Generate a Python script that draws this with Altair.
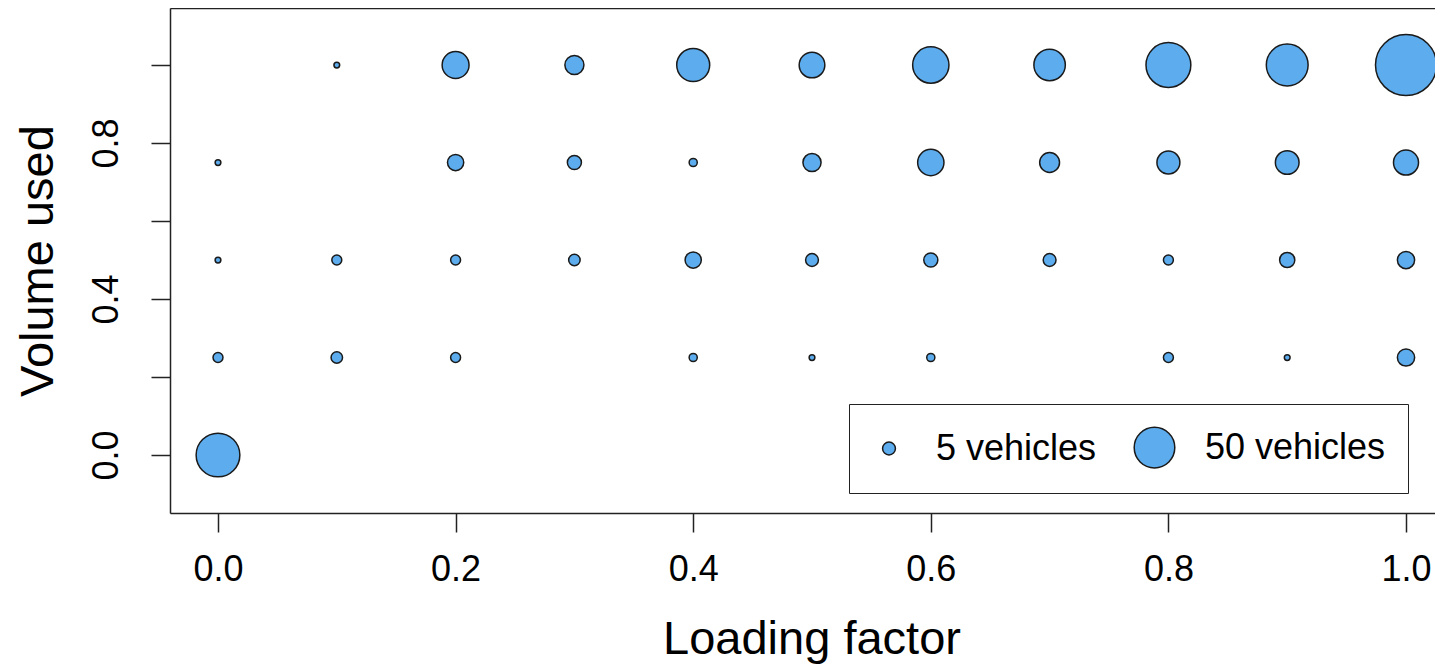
import altair as alt
import pandas as pd

FONT = "Liberation Sans, Arial, Helvetica, sans-serif"
BLUE = "#5CACEE"
DARK = "#1a1a1a"

# Data: number of vehicles per (loading factor, volume used) cell
loading = [0.0, 0.1, 0.2, 0.3, 0.4, 0.5, 0.6, 0.7, 0.8, 0.9, 1.0]
volume_levels = [0.0, 0.25, 0.5, 0.75, 1.0]
count_v000 = [58, None, None, None, None, None, None, None, None, None, None]
count_v025 = [3, 4, 3, None, 2, 1, 2, None, 3, 1, 9]
count_v050 = [1, 3, 3, 4, 8, 5, 6, 5, 3, 7, 9]
count_v075 = [1, None, 8, 6, 2, 10, 21, 12, 16, 17, 19]
count_v100 = [None, 1, 22, 11, 33, 20, 40, 30, 61, 53, 113]

x_ticks = [0.0, 0.2, 0.4, 0.6, 0.8, 1.0]
y_ticks = [0.0, 0.2, 0.4, 0.6, 0.8, 1.0]
legend_values = [5, 50]

rows = []
for v, counts in zip(volume_levels, [count_v000, count_v025, count_v050, count_v075, count_v100]):
    for x, n in zip(loading, counts):
        if n:
            rows.append({"loading": x, "volume": v, "n": n})
df = pd.DataFrame(rows)

xscale = alt.Scale(domain=[-0.0404, 1.0244], nice=False, zero=False)
yscale = alt.Scale(domain=[-0.1487, 1.1462], nice=False, zero=False)
r50 = 20.3
sscale = alt.Scale(type="linear", domain=[0, 50], range=[0, 4 * r50 * r50], zero=True)

points = alt.Chart(df).mark_point(
    shape="circle", filled=False, strokeWidth=1.5,
    opacity=1, fillOpacity=1, strokeOpacity=1
).encode(
    x=alt.X(
        "loading:Q",
        scale=xscale,
        axis=alt.Axis(
            values=x_ticks, format=".1f", grid=False,
            labelFont=FONT, labelFontSize=36, labelColor="black",
            labelPadding=20, labelFlush=False, labelOverlap=False,
            tickSize=19, tickColor="#222", tickWidth=1.5,
            domainColor="#222", domainWidth=1.5,
            title="Loading factor", titleFont=FONT, titleFontSize=47,
            titleFontWeight="normal", titleColor="black",
            titleBaseline="alphabetic", titleAlign="center",
            titleX=641.5, titleY=140,
        ),
    ),
    y=alt.Y(
        "volume:Q",
        scale=yscale,
        axis=alt.Axis(
            values=y_ticks, grid=False,
            labelExpr="(abs(datum.value) < 0.01 || abs(datum.value - 0.4) < 0.01 || abs(datum.value - 0.8) < 0.01) ? format(datum.value, '.1f') : ''",
            labelFont=FONT, labelFontSize=36, labelColor="black",
            labelAngle=270, labelAlign="center", labelBaseline="alphabetic",
            labelPadding=34, labelFlush=False, labelOverlap=False,
            tickSize=19, tickColor="#222", tickWidth=1.5,
            domainColor="#222", domainWidth=1.5,
            title="Volume used", titleFont=FONT, titleFontSize=47,
            titleFontWeight="normal", titleColor="black",
            titleAngle=270, titleAlign="center", titleBaseline="alphabetic",
            titleX=-118, titleY=252.5,
        ),
    ),
    size=alt.Size(
        "n:Q",
        scale=sscale,
        legend=alt.Legend(
            orient="none", legendX=679, legendY=396, direction="horizontal",
            values=legend_values, title=None,
            labelExpr="datum.value + ' vehicles'",
            labelFont=FONT, labelFontSize=36, labelColor="black",
            labelLimit=500, labelOffset=29, columnPadding=34, padding=22,
            strokeColor="#222",
            symbolType="circle", symbolStrokeWidth=1.5, symbolOpacity=1,
        ),
    ),
    fill=alt.value(BLUE),
    stroke=alt.value(DARK),
)

top = alt.Chart(df).mark_point(opacity=0).encode(
    x=alt.X(
        "loading:Q",
        scale=xscale,
        axis=alt.Axis(orient="top", labels=False, ticks=False, grid=False,
                      domainColor="#222", domainWidth=1.5, title=None),
    ),
)

chart = alt.layer(points, top).resolve_axis(x="independent").properties(
    width=1265,
    height=505,
    autosize=alt.AutoSizeParams(type="none"),
    padding={"left": 162, "top": 0, "right": 0, "bottom": 151},
).configure_view(stroke=None).configure(background="white")

chart.save("out.html", embed_options={"renderer": "svg", "actions": False})
